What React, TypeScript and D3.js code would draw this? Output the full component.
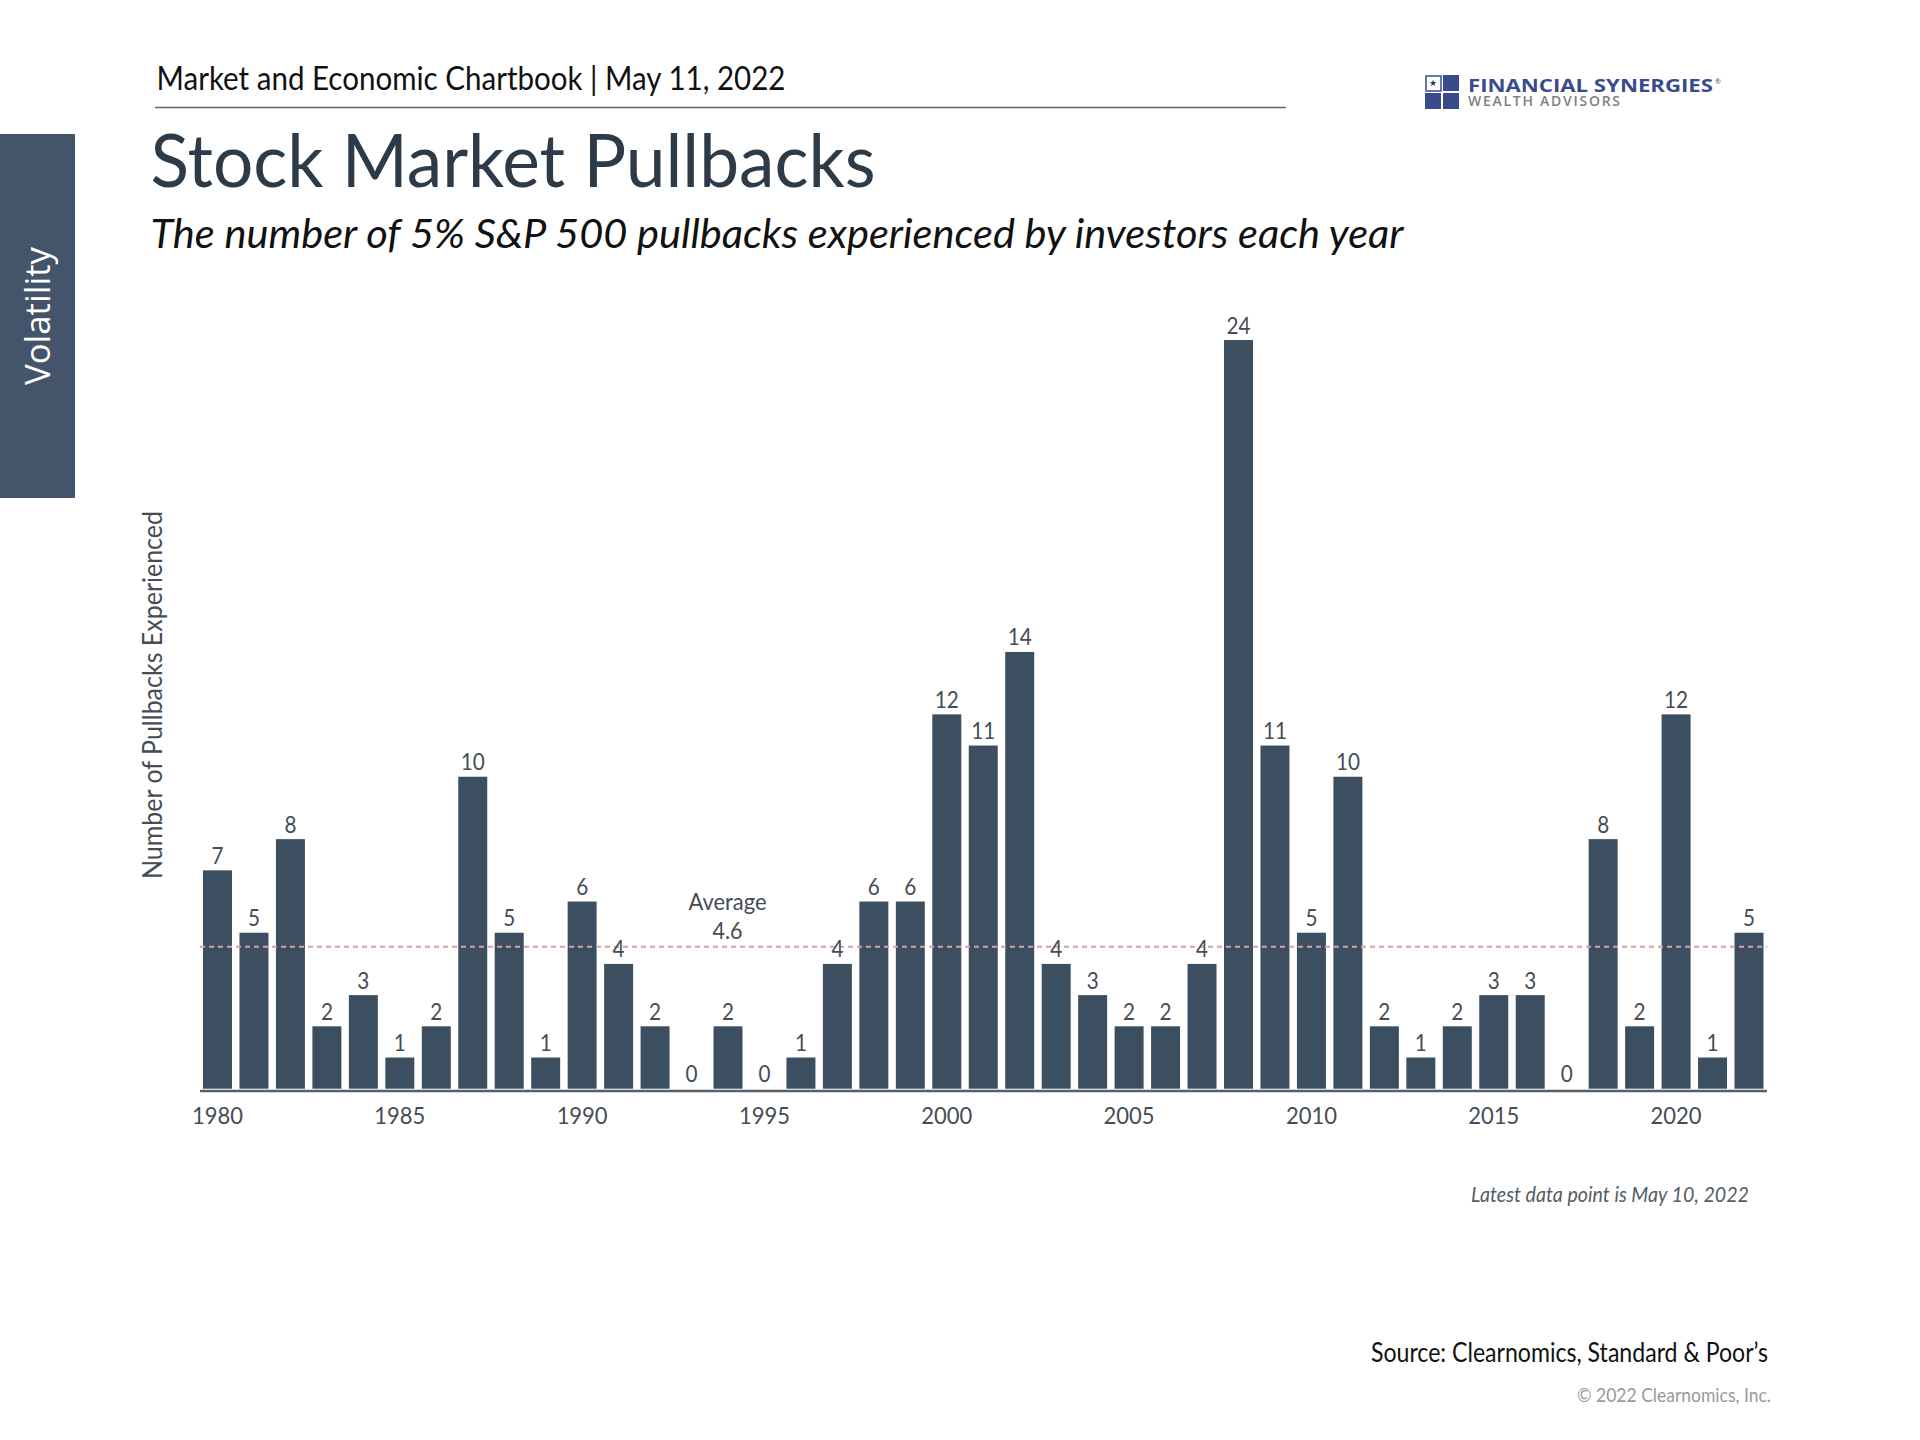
import React from "react";
import * as d3 from "d3";

const years = d3.range(1980, 2023);
const pullbacks = [
  7, 5, 8, 2, 3, 1, 2, 10, 5, 1,
  6, 4, 2, 0, 2, 0, 1, 4, 6, 6,
  12, 11, 14, 4, 3, 2, 2, 4, 24, 11,
  5, 10, 2, 1, 2, 3, 3, 0, 8, 2,
  12, 1, 5,
];
const tickYears = [1980, 1985, 1990, 1995, 2000, 2005, 2010, 2015, 2020];
const averageValue = 4.6;

const FONT = "Lato, 'Noto Sans', sans-serif";

export default function App() {
  const x = d3.scaleBand<number>().domain(years).range([203, 1763.5]).paddingInner(0.205).paddingOuter(0);
  const y = d3.scaleLinear().domain([0, 24]).range([1088.7, 340]);
  const cx = (yr: number) => (x(yr) as number) + x.bandwidth() / 2;

  return (
    <svg
      width={1920}
      height={1440}
      viewBox="0 0 1920 1440"
      style={{ position: "absolute", left: 0, top: 0, background: "#fff", fontFamily: FONT }}
    >
      {/* side tab */}
      <rect x={0} y={134} width={75} height={364} fill="#44546a" />
      <text transform="translate(49.5,385) rotate(-90)" fontSize={35} fill="#fff" fontFamily="'Open Sans', sans-serif" fontWeight={400} textLength={138} lengthAdjust="spacingAndGlyphs">
        Volatility
      </text>

      {/* header */}
      <text x={156.5} y={90} fontSize={32} fill="#111" textLength={629} lengthAdjust="spacingAndGlyphs">
        Market and Economic Chartbook | May 11, 2022
      </text>
      <line x1={155} x2={1286} y1={107.5} y2={107.5} stroke="#5b6670" strokeWidth={1.5} />
      <text x={150.5} y={186.5} fontSize={74} fill="#2d3b48" textLength={725} lengthAdjust="spacingAndGlyphs">
        Stock Market Pullbacks
      </text>
      <text x={150.5} y={247.5} fontSize={41} fontStyle="italic" fill="#111" textLength={1253} lengthAdjust="spacingAndGlyphs">
        The number of 5% S&amp;P 500 pullbacks experienced by investors each year
      </text>

      {/* logo */}
      <g>
        <rect x={1426} y={76} width={15} height={15} fill="#fff" stroke="#3a4b8c" strokeWidth={1.5} />
        <rect x={1443} y={75} width={16} height={16} fill="#3a4b8c" />
        <rect x={1425} y={93} width={16} height={16} fill="#3a4b8c" />
        <rect x={1443} y={93} width={16} height={16} fill="#3a4b8c" />
        <text x={1429} y={86} fontSize={9} fill="#2a3560">★</text>
        <text x={1468} y={92} fontSize={18} fontWeight={700} fill="#3a4b8c" fontFamily="'Open Sans', sans-serif" textLength={245} lengthAdjust="spacingAndGlyphs">
          FINANCIAL SYNERGIES
        </text>
        <text x={1715} y={84} fontSize={7} fill="#3a4b8c">®</text>
        <text x={1468} y={106} fontSize={14} fontWeight={600} fill="#808080" fontFamily="'Open Sans', sans-serif" textLength={152} lengthAdjust="spacing">
          WEALTH ADVISORS
        </text>
      </g>

      {/* y label */}
      <text transform="translate(162,879) rotate(-90)" fontSize={27} fill="#444c55" textLength={368} lengthAdjust="spacingAndGlyphs">
        Number of Pullbacks Experienced
      </text>

      {/* bars */}
      {years.map((yr, i) => (
        <rect key={yr} x={x(yr)} y={y(pullbacks[i])} width={x.bandwidth()} height={y(0) - y(pullbacks[i])} fill="#3c4f60" />
      ))}

      {/* average line */}
      <line
        x1={200}
        x2={1767}
        y1={y(averageValue) + 1.5}
        y2={y(averageValue) + 1.5}
        stroke="#d8a0a8"
        strokeWidth={2}
        strokeDasharray="5 4"
      />

      {/* axis */}
      <line x1={200} x2={1767} y1={1091} y2={1091} stroke="#55606b" strokeWidth={2.5} />

      {/* value labels */}
      {years.map((yr, i) => (
        <text
          key={yr}
          x={cx(yr)}
          y={y(pullbacks[i]) - 6.5}
          fontSize={24}
          fill="#444c55"
          textAnchor="middle"
          textLength={String(pullbacks[i]).length * 12}
          lengthAdjust="spacingAndGlyphs"
        >
          {pullbacks[i]}
        </text>
      ))}

      {/* ticks */}
      {tickYears.map((yr) => (
        <text key={yr} x={cx(yr)} y={1124} fontSize={24} fill="#444c55" textAnchor="middle" textLength={51} lengthAdjust="spacingAndGlyphs">
          {yr}
        </text>
      ))}

      {/* average annotation */}
      <text x={727.5} y={910} fontSize={24} fill="#444c55" textAnchor="middle" textLength={78} lengthAdjust="spacingAndGlyphs">Average</text>
      <text x={727.5} y={939} fontSize={24} fill="#444c55" textAnchor="middle" textLength={30} lengthAdjust="spacingAndGlyphs">{averageValue}</text>

      {/* footnotes */}
      <text x={1471} y={1202} fontSize={22} fontStyle="italic" fill="#555d66" textLength={278} lengthAdjust="spacingAndGlyphs">
        Latest data point is May 10, 2022
      </text>
      <text x={1371} y={1362} fontSize={26} fill="#111" textLength={397} lengthAdjust="spacingAndGlyphs">
        Source: Clearnomics, Standard &amp; Poor’s
      </text>
      <text x={1577} y={1402} fontSize={20} fill="#999" textLength={194} lengthAdjust="spacingAndGlyphs">
        © 2022 Clearnomics, Inc.
      </text>
    </svg>
  );
}
